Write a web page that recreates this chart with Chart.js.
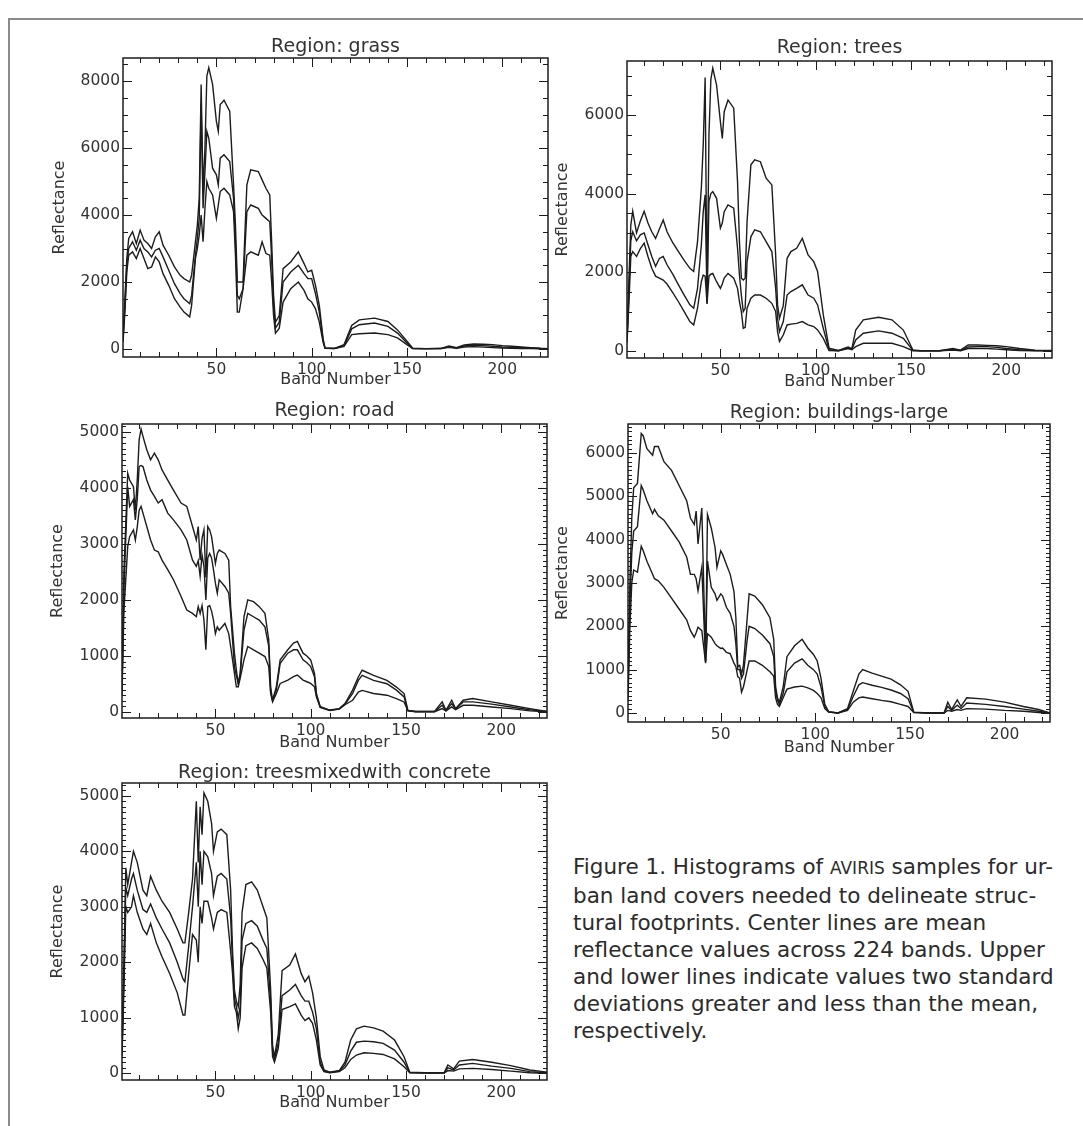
<!DOCTYPE html>
<html><head><meta charset="utf-8">
<script src="https://cdn.jsdelivr.net/npm/chart.js@4.4.1/dist/chart.umd.min.js"></script>
<style>
html,body{margin:0;padding:0;background:#fff;}
body{width:1083px;height:1126px;position:relative;overflow:hidden;}
canvas{position:absolute;}
#frameTop{position:absolute;left:8px;top:18px;width:1075px;height:0;border-top:2px solid #8a8a8a;}
#frameLeft{position:absolute;left:8px;top:18px;width:0;height:1108px;border-left:2px solid #8a8a8a;}
#caption{position:absolute;left:573px;top:853px;font-family:"DejaVu Sans";font-size:21.5px;line-height:27px;color:#2b2b2b;white-space:pre;}
.sc{font-size:17px;}
</style></head><body>
<div id="frameTop"></div><div id="frameLeft"></div>
<canvas id="cGrass"></canvas>
<canvas id="cTrees"></canvas>
<canvas id="cRoad"></canvas>
<canvas id="cBuild"></canvas>
<canvas id="cMixed"></canvas>
<div id="caption">Figure 1. Histograms of <span class="sc">AVIRIS</span> samples for ur-
ban land covers needed to delineate struc-
tural footprints. Center lines are mean
reflectance values across 224 bands. Upper
and lower lines indicate values two standard
deviations greater and less than the mean,
respectively.</div>
<script>
// ---------- tick labels ----------
const bandTicks = [50, 100, 150, 200];
const grassYTicks = [0, 2000, 4000, 6000, 8000];
const treesYTicks = [0, 2000, 4000, 6000];
const roadYTicks = [0, 1000, 2000, 3000, 4000, 5000];
const buildYTicks = [0, 1000, 2000, 3000, 4000, 5000, 6000];
const mixedYTicks = [0, 1000, 2000, 3000, 4000, 5000];

// ---------- Region: grass ----------
const grassBands = [1,2,3,4,6,8,10,12,14,16,18,20,22,25,28,31,33,36,37,39,40,41,42,43,44,45,46,48,50,51,52,54,57,59,60,61,62,64,65,66,68,72,74,76,78,79,80,81,83,85,89,93,96,98,100,102,104,106,107,112,117,121,125,133,140,145,150,153,160,168,172,176,180,185,190,195,200,205,210,215,220,224];
const grassUpper = [300,1500,2700,3300,3500,3150,3550,3250,3150,3000,3350,3500,3100,2800,2450,2200,2100,2000,2200,3200,3700,4500,7900,4700,6000,8150,8400,7900,6800,6500,7300,7430,7100,4900,3700,2000,2000,2000,3500,4900,5350,5300,5050,4800,4600,3200,1600,800,1000,2400,2600,2900,2550,2300,2350,1900,1300,300,30,20,130,700,870,920,820,570,230,20,10,20,90,40,120,150,140,130,100,80,60,40,20,10];
const grassMean = [250,1300,2500,3000,3200,2950,3250,3000,2900,2750,2950,3000,2750,2350,1950,1650,1500,1350,1600,2800,3300,3900,7300,4200,5300,6500,6300,5400,5200,4900,5700,5800,5600,4500,3200,1600,1500,1800,3000,4100,4300,4200,4000,3900,3800,2700,1300,620,800,2000,2300,2500,2250,2100,2100,1650,1100,250,25,15,100,600,725,775,675,475,180,15,10,15,70,30,90,110,100,80,60,50,40,30,15,10];
const grassLower = [200,1100,2300,2800,2900,2700,3000,2700,2400,2450,2750,2600,2250,1900,1500,1250,1100,960,1300,2700,3000,3400,4000,3200,4200,5000,4800,4600,3900,4300,4700,4800,4600,4100,2800,1100,1100,1800,2300,2800,2900,2800,3200,2850,2800,2000,1000,470,620,1400,1800,2000,1750,1500,1400,1200,800,200,20,10,80,430,455,475,430,330,130,10,5,10,50,20,60,70,55,40,30,20,15,10,5,5];

// ---------- Region: trees ----------
const treesBands = [1,2,3,4,6,8,10,12,14,16,18,20,22,25,28,31,34,36,38,40,41,42,43,44,45,46,48,50,51,52,54,57,59,60,61,62,63,64,66,68,71,74,77,79,80,81,83,85,87,90,93,96,99,101,104,107,112,117,119,121,125,133,140,146,151,155,165,172,176,180,185,190,195,200,207,215,224];
const treesUpper = [300,1800,3200,3550,3000,3300,3550,3250,3030,2860,3100,3330,3030,2750,2525,2300,2100,2020,2780,4135,5240,6950,1200,5500,6900,7190,6760,5830,5400,6080,6380,6170,4300,2780,1850,1800,1850,3290,4730,4860,4810,4390,4220,2440,1170,830,1150,2355,2525,2610,2860,2440,2270,2020,915,70,10,100,60,530,790,855,790,530,25,5,5,60,20,150,150,140,130,110,60,20,10];
const treesMean = [250,1500,2800,3030,2800,2950,3000,2700,2400,2150,2350,2400,2190,1950,1680,1420,1170,1085,1590,2690,3540,3970,1300,3800,4000,4050,3880,3120,3250,3540,3710,3630,2610,1930,1420,1000,1085,2270,2900,3080,3030,2780,2525,1590,830,490,745,1420,1510,1590,1680,1420,1340,1170,575,30,5,80,40,280,450,510,450,320,15,3,3,40,10,100,110,110,90,60,30,10,5];
const treesLower = [200,1200,2400,2525,2400,2600,2740,2400,2100,1900,1850,1800,1700,1480,1250,1000,745,660,1085,1760,1930,1900,1200,1900,1950,1970,1760,1590,1700,1850,1970,1850,1590,1250,1000,575,600,1085,1340,1420,1420,1340,1210,1000,490,240,405,660,680,700,745,660,620,535,320,10,0,60,30,110,195,195,195,110,5,0,0,20,5,60,60,60,45,30,10,5,0];

// ---------- Region: road ----------
const roadBands = [1,2,4,5,7,8,9,10,11,12,14,16,18,20,22,25,28,32,35,38,40,41,42,43,44,45,46,47,48,49,50,51,52,55,57,58,60,61,62,63,65,67,70,73,76,78,79,80,82,84,88,91,93,96,98,100,102,103,105,110,115,118,122,125,127,133,140,145,149,151,155,165,169,171,174,176,180,185,195,205,215,224];
const roadUpper = [500,2500,4260,4140,4020,3600,4140,4860,5050,4920,4680,4500,4620,4500,4320,4140,3960,3730,3670,3310,3070,3310,2710,3100,3250,2400,3310,3250,3130,2890,2650,2830,2890,2830,2710,1880,1050,750,510,690,1700,2000,1970,1880,1760,1290,450,210,450,930,1110,1230,1260,1050,1000,930,690,330,95,35,60,150,390,625,745,655,565,445,330,30,10,10,180,30,210,60,210,240,180,120,60,10];
const roadMean = [400,2200,4020,3670,3790,3430,3800,4380,4400,4380,4140,3960,3850,3730,3790,3550,3430,3250,3070,2710,2600,2700,2420,2800,2600,2000,2750,2830,2750,2540,2300,2120,2360,2240,2120,1760,810,650,510,650,1460,1760,1700,1640,1520,1170,350,210,390,870,1050,1110,1110,930,880,810,630,300,90,30,55,140,330,565,655,565,505,390,270,25,8,8,120,25,150,50,180,180,140,90,40,8];
const roadLower = [300,1800,2950,3130,3250,3070,3300,3600,3670,3550,3310,3070,2890,2860,2710,2540,2360,2060,1820,1760,1700,1880,1760,1900,1640,1110,1880,1900,1800,1640,1400,1520,1460,1580,1400,1170,690,450,450,600,930,1170,1110,1050,990,810,330,180,330,510,570,630,660,570,540,510,450,270,80,25,50,130,210,355,385,330,300,240,180,20,5,5,60,20,90,40,120,120,90,60,20,5];

// ---------- Region: buildings-large ----------
const buildBands = [1,2,3,4,6,8,9,11,14,15,17,20,24,28,32,34,36,37,38,40,42,43,45,47,48,50,51,53,55,57,58,59,60,61,62,64,65,68,72,76,78,79,80,81,83,85,89,93,96,99,101,103,105,107,112,117,120,123,125,130,135,140,145,149,152,160,168,170,172,175,177,180,190,200,210,218,224];
const buildUpper = [500,3000,4500,5200,5300,6450,6400,6100,5950,6150,6150,5800,5600,5250,4900,4500,4350,4660,3900,4730,1200,4580,4270,3820,3360,3740,3660,3430,3200,2800,2200,1070,1100,900,1100,2200,2750,2700,2500,2200,1700,600,350,250,600,1300,1550,1700,1500,1350,1200,800,200,30,0,100,500,900,1000,920,850,780,650,500,20,0,0,250,80,300,150,350,320,250,150,80,0];
const buildMean = [400,2500,3700,4200,4300,5250,5150,4900,4600,4700,4550,4450,4200,3950,3600,3200,3200,3100,2820,3360,1180,3510,2900,2750,2600,2750,2700,2440,2300,2000,1600,1000,1000,800,900,1700,2000,1950,1800,1600,1300,500,300,200,450,950,1150,1250,1100,1000,900,600,150,25,0,80,380,650,700,640,590,530,450,330,15,0,0,150,60,180,100,230,200,150,90,40,0];
const buildLower = [300,2000,3000,3300,3250,3850,3750,3500,3200,3100,3050,2900,2650,2400,2150,1900,1750,1850,1980,1900,1150,1830,1750,1600,1550,1490,1500,1400,1370,1150,1070,840,800,480,600,1000,1200,1200,1100,950,850,350,200,150,350,550,600,620,580,520,450,350,100,20,0,60,250,350,370,330,290,260,200,150,10,0,0,60,40,80,60,100,90,60,40,10,0];

// ---------- Region: treesmixedwith concrete ----------
const mixedBands = [1,2,3,4,6,7,9,12,14,16,19,22,26,30,33,34,36,38,40,41,42,43,44,46,48,49,51,53,56,58,59,60,61,62,63,64,66,69,72,75,77,79,80,81,83,85,89,92,95,97,99,101,103,105,107,110,115,118,121,124,128,133,138,144,149,152,160,170,172,175,178,185,195,205,215,220,224];
const mixedUpper = [400,2000,3700,3400,3800,4000,3800,3300,3200,3550,3300,3100,2900,2600,2350,2350,2900,3500,4900,3800,4800,4300,5050,4900,4500,4000,4350,4400,4300,3300,2200,1500,1300,1200,1600,2900,3400,3450,3300,3000,2800,1500,500,300,700,1850,1950,2150,1800,1650,1750,1450,1000,300,60,20,50,200,600,800,850,820,760,600,300,20,10,10,150,80,220,250,200,140,60,40,20];
const mixedMean = [350,1800,3350,3200,3500,3600,3300,2950,2900,3050,2800,2600,2350,2000,1700,1650,2300,3000,3800,3000,4000,3400,4000,3900,3600,3200,3550,3600,3500,2800,2000,1350,1200,1000,1200,2400,2700,2750,2650,2400,2250,1300,400,250,550,1400,1500,1600,1400,1300,1300,1100,800,200,40,15,40,150,400,560,580,570,540,420,200,15,8,8,100,60,150,180,130,90,30,20,10];
const mixedLower = [300,1500,3000,2900,3000,3200,2900,2600,2500,2700,2350,2100,1800,1450,1050,1050,1800,2500,2400,2000,3000,2700,3100,3100,2800,2600,2900,2950,2900,2200,1800,1200,1100,800,1000,1900,2300,2350,2250,2050,1900,1100,300,200,450,1150,1200,1250,1050,950,1000,900,600,150,30,10,30,100,250,330,370,360,340,260,120,10,5,5,50,40,80,90,70,40,10,5,5];

// ---------- drawing ----------
const INK = '#1c1c1c';
const TXT = '#333333';
const AXW = 80;   // width reserved for the y axis
Chart.defaults.font.family = '"DejaVu Sans", sans-serif';

const frameTicks = {
  id: 'frameTicks',
  afterDatasetsDraw(chart, args, o) {
    const {ctx, chartArea: a, scales: {x, y}} = chart;
    ctx.save();
    ctx.strokeStyle = INK;
    ctx.lineWidth = 1;
    ctx.beginPath();
    for (let v = o.xMinor; v <= x.max; v += o.xMinor) {
      const px = Math.round(x.getPixelForValue(v)) + 0.5;
      const L = (v % o.xMajor === 0) ? 9 : 5;
      ctx.moveTo(px, a.bottom); ctx.lineTo(px, a.bottom - L);
      ctx.moveTo(px, a.top); ctx.lineTo(px, a.top + L);
    }
    for (let v = 0; v <= y.max; v += o.yMinor) {
      const py = Math.round(y.getPixelForValue(v)) + 0.5;
      const L = (v % o.yMajor === 0) ? 9 : o.minorLen;
      ctx.moveTo(a.left, py); ctx.lineTo(a.left + L, py);
      ctx.moveTo(a.right, py); ctx.lineTo(a.right - L, py);
    }
    ctx.stroke();
    ctx.lineWidth = 1.5;
    ctx.strokeRect(a.left, a.top, a.right - a.left, a.bottom - a.top);
    ctx.restore();
  }
};

function makeChart(cfg) {
  const cv = document.getElementById(cfg.id);
  const b = cfg.box;
  const W = b.r - b.l + AXW + 8, H = b.b - b.t + 84;
  cv.width = W; cv.height = H;
  cv.style.width = W + 'px'; cv.style.height = H + 'px';
  cv.style.left = (b.l - AXW) + 'px'; cv.style.top = (b.t - 40) + 'px';
  const mk = arr => cfg.bands.map((band, i) => ({x: band, y: arr[i]}));
  const ds = arr => ({data: mk(arr), borderColor: INK, borderWidth: 1.4, pointRadius: 0, tension: 0, fill: false});
  new Chart(cv, {
    type: 'line',
    data: {datasets: [ds(cfg.upper), ds(cfg.mean), ds(cfg.lower)]},
    plugins: [frameTicks],
    options: {
      responsive: false, animation: false, devicePixelRatio: 1,
      layout: {padding: {left: 0, right: 8, top: 0, bottom: 0}},
      plugins: {
        legend: {display: false}, tooltip: {enabled: false},
        title: {display: true, fullSize: false, text: cfg.title, color: TXT,
          font: {size: 19, weight: 'normal', lineHeight: 1},
          padding: {top: 40 - cfg.titleOff - 9.5, bottom: cfg.titleOff - 9.5}},
        frameTicks: {xMinor: 10, xMajor: 50, yMinor: cfg.yMinor, yMajor: cfg.yMajor, minorLen: cfg.minorLen}
      },
      scales: {
        x: {type: 'linear', min: 1, max: 224,
          afterFit: s => { s.height = 44; },
          afterBuildTicks: s => { s.ticks = bandTicks.map(v => ({value: v})); },
          grid: {display: false, drawTicks: false}, border: {display: false},
          ticks: {color: TXT, font: {size: 15.5}, padding: 4, maxRotation: 0, autoSkip: false,
            callback: v => String(v)},
          title: {display: true, text: 'Band Number', color: TXT, font: {size: 16, lineHeight: 1},
            padding: {top: 0, bottom: 36 - cfg.xTitleOff}}},
        y: {type: 'linear', min: cfg.yMin, max: cfg.yMax,
          afterFit: s => { s.width = AXW; },
          afterBuildTicks: s => { s.ticks = cfg.yTicks.map(v => ({value: v})); },
          grid: {display: false, drawTicks: false}, border: {display: false},
          ticks: {color: TXT, font: {size: 15.5}, padding: 3, autoSkip: false,
            callback: v => String(v)},
          title: {display: true, text: 'Reflectance', color: TXT, font: {size: 16, lineHeight: 1},
            padding: {top: cfg.yTitleX - 8, bottom: 0}}}
      }
    }
  });
}

makeChart({id: 'cGrass', box: {l: 123, t: 58, r: 548, b: 357}, title: 'Region: grass', titleOff: 11, xTitleOff: 23, yTitleX: 17,
  bands: grassBands, upper: grassUpper, mean: grassMean, lower: grassLower,
  yMin: -240, yMax: 8690, yTicks: grassYTicks, yMinor: 500, yMajor: 2000, minorLen: 5});
makeChart({id: 'cTrees', box: {l: 627, t: 61, r: 1052, b: 358}, title: 'Region: trees', titleOff: 13, xTitleOff: 24, yTitleX: 16,
  bands: treesBands, upper: treesUpper, mean: treesMean, lower: treesLower,
  yMin: -180, yMax: 7370, yTicks: treesYTicks, yMinor: 500, yMajor: 2000, minorLen: 5});
makeChart({id: 'cRoad', box: {l: 122, t: 424, r: 547, b: 718}, title: 'Region: road', titleOff: 12.5, xTitleOff: 25, yTitleX: 16,
  bands: roadBands, upper: roadUpper, mean: roadMean, lower: roadLower,
  yMin: -107, yMax: 5140, yTicks: roadYTicks, yMinor: 100, yMajor: 1000, minorLen: 4});
makeChart({id: 'cBuild', box: {l: 628, t: 424, r: 1050, b: 722}, title: 'Region: buildings-large', titleOff: 10.5, xTitleOff: 26, yTitleX: 15,
  bands: buildBands, upper: buildUpper, mean: buildMean, lower: buildLower,
  yMin: -208, yMax: 6670, yTicks: buildYTicks, yMinor: 100, yMajor: 1000, minorLen: 4});
makeChart({id: 'cMixed', box: {l: 122, t: 783, r: 547, b: 1080}, title: 'Region: treesmixedwith concrete', titleOff: 10, xTitleOff: 23, yTitleX: 16,
  bands: mixedBands, upper: mixedUpper, mean: mixedMean, lower: mixedLower,
  yMin: -120, yMax: 5230, yTicks: mixedYTicks, yMinor: 100, yMajor: 1000, minorLen: 4});
</script>
</body></html>
